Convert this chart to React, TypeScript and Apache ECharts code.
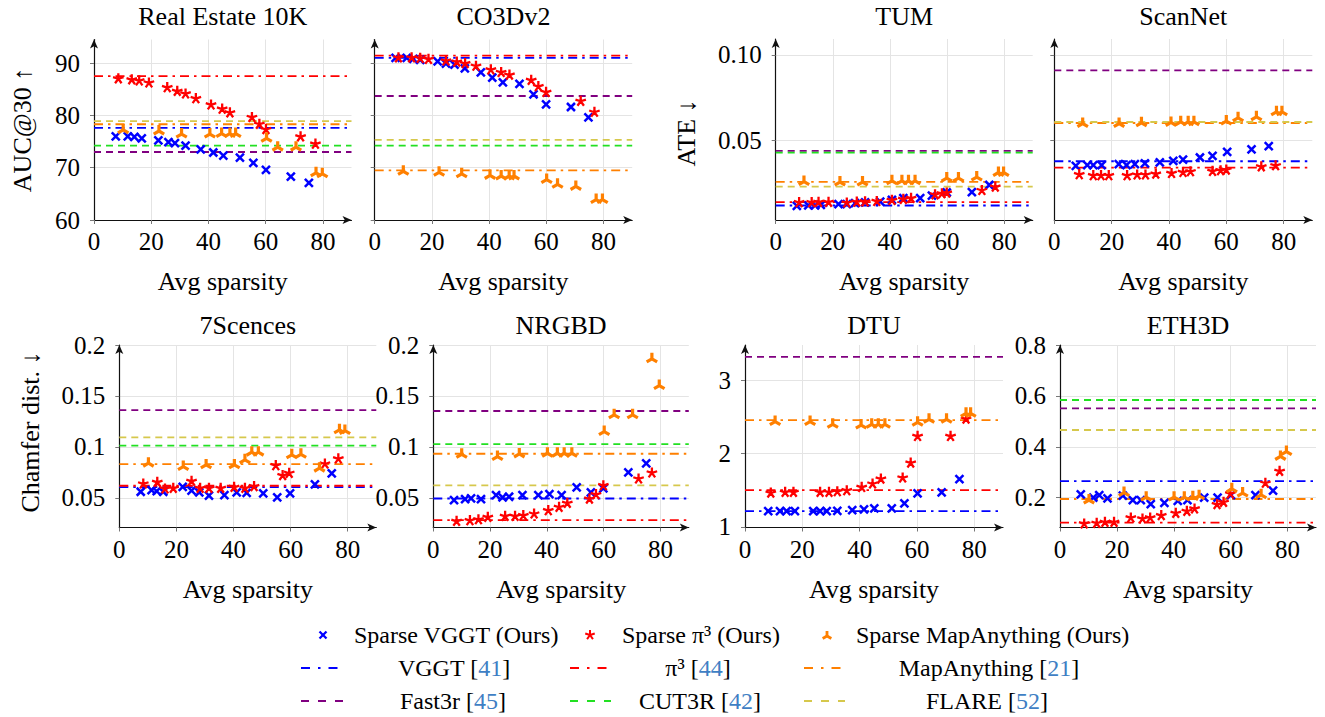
import React, { useEffect, useRef } from 'react';
import * as echarts from 'echarts';

const FONT = '"Liberation Serif", "Times New Roman", serif';

const xTicks = [0, 20, 40, 60, 80];
const panelTitles = ['Real Estate 10K', 'CO3Dv2', 'TUM', 'ScanNet', '7Scences', 'NRGBD', 'DTU', 'ETH3D'];
const baselineNames = ['VGGT', 'π³', 'MapAnything', 'Fast3r', 'CUT3R', 'FLARE'];

// ---------- Real Estate 10K ----------
const re10kVGGT = [[7.6, 76.0], [11.8, 76.0], [14.1, 75.9], [16.7, 75.6], [22.5, 75.2], [26.0, 74.9], [28.3, 74.7], [32.0, 74.2], [37.3, 73.5], [41.7, 72.9], [45.2, 72.3], [51.0, 71.9], [55.7, 70.9], [60.1, 69.6], [68.8, 68.3], [75.1, 67.1]];
const re10kPi3 = [[8.5, 87.1], [13.2, 86.9], [15.8, 86.7], [19.2, 86.3], [25.6, 85.4], [29.1, 84.7], [32.0, 84.2], [35.6, 83.3], [40.9, 82.1], [44.8, 81.3], [47.5, 80.6], [55.2, 79.7], [57.8, 78.4], [60.1, 77.4], [72.2, 76.0], [77.4, 74.6]];
const re10kMapA = [[10.2, 77.5], [22.7, 77.3], [30.6, 76.7], [40.5, 76.7], [44.6, 76.8], [47.5, 76.8], [49.5, 76.8], [60.3, 75.9], [64.2, 74.2], [70.6, 74.2], [77.6, 69.3], [79.8, 69.1]];
const re10kBaselines = [77.6, 87.5, 78.3, 73.0, 74.2, 78.9];
const re10kYTicks = [60, 70, 80, 90];

// ---------- CO3Dv2 ----------
const co3dVGGT = [[7.3, 91.0], [11.2, 91.0], [13.5, 90.8], [15.9, 90.6], [22.0, 90.3], [24.9, 89.9], [27.9, 89.7], [31.5, 89.0], [37.1, 88.2], [41.1, 87.2], [44.8, 86.3], [50.6, 86.0], [55.5, 84.0], [59.9, 82.1], [68.6, 81.6], [74.7, 79.6]];
const co3dPi3 = [[8.3, 91.1], [12.9, 91.1], [15.9, 91.0], [18.8, 90.8], [24.9, 90.5], [28.7, 90.3], [31.6, 90.0], [35.4, 89.5], [40.6, 88.8], [44.2, 88.3], [47.1, 87.8], [54.7, 86.8], [57.2, 85.6], [59.9, 84.5], [72.0, 82.8], [76.8, 80.7]];
const co3dMapA = [[10.0, 69.6], [22.5, 69.4], [30.4, 69.1], [40.3, 68.8], [44.2, 68.7], [47.0, 68.7], [48.7, 68.7], [60.1, 68.0], [63.9, 67.1], [70.3, 66.7], [77.4, 64.2], [79.6, 64.2]];
const co3dBaselines = [91.0, 91.4, 69.5, 83.7, 74.2, 75.3];
const co3dYTicks = [60, 70, 80, 90];

// ---------- TUM ----------
const tumVGGT = [[7.4, 0.0116], [11.4, 0.0118], [13.8, 0.0118], [15.8, 0.0122], [22.0, 0.0126], [24.9, 0.0126], [27.8, 0.0132], [31.3, 0.0136], [36.6, 0.0141], [40.7, 0.0151], [44.7, 0.0161], [50.6, 0.0161], [54.7, 0.0176], [59.9, 0.0194], [68.7, 0.0196], [74.8, 0.0238]];
const tumPi3 = [[8.2, 0.0138], [12.6, 0.0138], [15.0, 0.014], [18.5, 0.014], [24.9, 0.0136], [28.4, 0.0141], [31.3, 0.0143], [35.4, 0.0145], [40.7, 0.0151], [44.7, 0.0157], [47.4, 0.0163], [55.8, 0.0184], [58.2, 0.019], [59.9, 0.0194], [72.2, 0.0209], [76.9, 0.0229]];
const tumMapA = [[9.9, 0.0267], [22.5, 0.0264], [30.4, 0.0264], [40.7, 0.0271], [44.2, 0.0271], [46.5, 0.0271], [48.8, 0.0271], [59.9, 0.0287], [64.0, 0.0287], [70.4, 0.0293], [78.0, 0.032], [79.8, 0.032]];
const tumBaselines = [0.0118, 0.0138, 0.0256, 0.0438, 0.0428, 0.0229];
const tumYTicks = [0.05, 0.1];

// ---------- ScanNet ----------
const scannetVGGT = [[7.5, 0.035], [11.5, 0.0354], [13.6, 0.0354], [16.5, 0.0354], [22.5, 0.036], [25.2, 0.0354], [28.1, 0.036], [31.6, 0.0364], [36.8, 0.037], [41.5, 0.0379], [44.9, 0.0387], [50.8, 0.0399], [55.2, 0.0409], [60.3, 0.0432], [68.8, 0.0446], [74.8, 0.0465]];
const scannetPi3 = [[8.7, 0.0302], [13.6, 0.0296], [16.3, 0.0296], [19.0, 0.0296], [25.4, 0.0296], [28.9, 0.03], [31.8, 0.03], [35.4, 0.0305], [40.9, 0.0309], [44.9, 0.0315], [47.5, 0.0319], [55.2, 0.0321], [58.0, 0.0325], [60.0, 0.0329], [72.2, 0.0348], [77.2, 0.0354]];
const scannetMapA = [[9.9, 0.0607], [22.6, 0.0607], [30.4, 0.0611], [40.7, 0.0613], [44.1, 0.0617], [46.7, 0.0617], [48.7, 0.0617], [60.0, 0.0621], [64.1, 0.064], [70.5, 0.0646], [77.5, 0.0675], [79.4, 0.0675]];
const scannetBaselines = [0.0377, 0.034, 0.0601, 0.0909, null, 0.0607];
const scannetYTicks = [0.05, 0.1];

// ---------- 7Scences ----------
const sevenVGGT = [[7.5, 0.0559], [11.3, 0.0575], [13.1, 0.0566], [15.4, 0.0559], [22.2, 0.0608], [25.3, 0.0569], [28.0, 0.0552], [31.4, 0.052], [36.8, 0.0526], [41.1, 0.0552], [44.6, 0.0549], [50.4, 0.0543], [55.3, 0.0503], [59.8, 0.0543], [68.5, 0.0631], [74.4, 0.0739]];
const sevenPi3 = [[8.4, 0.0641], [13.3, 0.0657], [16.0, 0.0592], [18.9, 0.0598], [25.3, 0.0667], [28.3, 0.0598], [31.4, 0.0598], [35.5, 0.0598], [40.2, 0.0608], [44.0, 0.0598], [47.2, 0.0615], [54.8, 0.0821], [57.2, 0.0723], [59.5, 0.0746], [72.0, 0.0837], [76.7, 0.0887]];
const sevenMapA = [[10.2, 0.0854], [22.4, 0.0821], [30.4, 0.0837], [40.3, 0.0837], [44.0, 0.0887], [46.4, 0.0962], [48.7, 0.0962], [60.4, 0.0936], [63.6, 0.0942], [70.1, 0.0805], [77.1, 0.1181], [79.0, 0.1175]];
const sevenBaselines = [0.0605, 0.0618, 0.0831, 0.1361, 0.1011, 0.1093];
const sevenYTicks = [0.05, 0.1, 0.15, 0.2];

// ---------- NRGBD ----------
const nrgbdVGGT = [[7.3, 0.0477], [11.2, 0.0487], [13.3, 0.0493], [16.8, 0.0487], [22.1, 0.0526], [24.4, 0.0503], [26.7, 0.051], [31.4, 0.0526], [37.0, 0.0526], [40.9, 0.0536], [45.2, 0.0526], [50.5, 0.0602], [55.5, 0.0552], [59.9, 0.0592], [68.7, 0.0749], [75.0, 0.0837]];
const nrgbdPi3 = [[8.2, 0.0274], [12.9, 0.0281], [15.9, 0.029], [19.2, 0.0313], [25.3, 0.0323], [28.8, 0.0323], [31.7, 0.033], [35.5, 0.0346], [40.5, 0.0379], [44.3, 0.0412], [47.2, 0.0451], [55.0, 0.0493], [57.3, 0.0536], [59.9, 0.0624], [72.3, 0.069], [77.0, 0.0749]];
const nrgbdMapA = [[10.0, 0.0942], [22.6, 0.0919], [30.3, 0.0945], [40.2, 0.0952], [43.7, 0.0952], [46.1, 0.0952], [48.8, 0.0952], [60.2, 0.1165], [63.7, 0.1329], [70.2, 0.1329], [77.0, 0.1879], [79.6, 0.1617]];
const nrgbdBaselines = [0.0493, 0.0281, 0.0932, 0.1352, 0.1027, 0.0621];
const nrgbdYTicks = [0.05, 0.1, 0.15, 0.2];

// ---------- DTU ----------
const dtuVGGT = [[8.1, 1.214], [12.2, 1.214], [14.5, 1.214], [17.4, 1.214], [23.8, 1.214], [26.2, 1.214], [28.5, 1.214], [32.2, 1.218], [37.4, 1.227], [41.5, 1.236], [45.1, 1.25], [51.2, 1.25], [55.6, 1.318], [60.2, 1.455], [68.6, 1.468], [74.8, 1.65]];
const dtuPi3 = [[9.0, 1.468], [14.0, 1.477], [16.9, 1.477], [26.2, 1.477], [29.3, 1.477], [32.2, 1.486], [35.5, 1.5], [40.7, 1.545], [44.5, 1.591], [47.4, 1.659], [55.0, 1.673], [57.8, 1.877], [60.2, 2.241], [71.7, 2.241], [77.1, 2.477]];
const dtuMapA = [[10.5, 2.455], [22.7, 2.455], [30.6, 2.418], [40.5, 2.409], [44.2, 2.418], [46.5, 2.418], [48.8, 2.418], [60.2, 2.445], [64.2, 2.486], [70.3, 2.486], [77.1, 2.568], [78.7, 2.568]];
const dtuBaselines = [1.214, 1.5, 2.455, 3.318, null, null];
const dtuYTicks = [1, 2, 3];

// ---------- ETH3D ----------
const ethVGGT = [[7.3, 0.213], [11.7, 0.2], [13.8, 0.21], [16.7, 0.197], [22.1, 0.208], [25.6, 0.191], [28.4, 0.191], [31.9, 0.175], [36.7, 0.18], [41.4, 0.188], [44.8, 0.191], [50.7, 0.2], [55.4, 0.2], [60.1, 0.21], [68.7, 0.21], [74.9, 0.2275]];
const ethPi3 = [[8.5, 0.0992], [12.9, 0.1018], [15.8, 0.1057], [19.0, 0.1057], [24.9, 0.1227], [29.0, 0.1188], [31.7, 0.1227], [35.6, 0.1319], [40.7, 0.1411], [44.6, 0.1489], [47.3, 0.1581], [55.2, 0.1751], [57.5, 0.1843], [59.9, 0.217], [72.2, 0.259], [77.2, 0.306]];
const ethMapA = [[10.2, 0.197], [22.5, 0.226], [30.3, 0.208], [40.1, 0.208], [43.7, 0.208], [46.7, 0.21], [48.9, 0.213], [60.4, 0.241], [64.2, 0.224], [70.7, 0.217], [77.5, 0.368], [79.6, 0.387]];
const ethBaselines = [0.2655, 0.102, 0.195, 0.551, 0.584, 0.466];
const ethYTicks = [0.2, 0.4, 0.6, 0.8];

const COLORS = {
  blue: '#0000ff',
  red: '#ff0000',
  orange: '#ff8000',
  purple: '#800080',
  green: '#22e022',
  yellow: '#d6c84c',
};
const baselineColors = [COLORS.blue, COLORS.red, COLORS.orange, COLORS.purple, COLORS.green, COLORS.yellow];
const DASHDOT = [9, 5, 2.5, 5];
const DASHED = [7, 5];
const baselineDash = [DASHDOT, DASHDOT, DASHDOT, DASHED, DASHED, DASHED];

const CROSS = 'path://M0,0L10,10M10,0L0,10';
const STAR = 'path://M10,10L10,0M10,10L19.51,6.91M10,10L15.88,18.09M10,10L4.12,18.09M10,10L0.49,6.91';
const TRI = 'path://M10,10L10,0M10,10L1.34,15M10,10L18.66,15';

const fmt2 = (v: number) => v.toFixed(2);
const fmtG = (v: number) => String(Math.round(v * 1000) / 1000);
const fmt1 = (v: number) => v.toFixed(1);

const panels = [
  { vggt: re10kVGGT, pi3: re10kPi3, mapa: re10kMapA, base: re10kBaselines, ticks: re10kYTicks, min: 60, max: 94.5, labels: true, fmt: fmtG, layout: [94, 39.5, 257.5, 180.5] },
  { vggt: co3dVGGT, pi3: co3dPi3, mapa: co3dMapA, base: co3dBaselines, ticks: co3dYTicks, min: 60, max: 94.5, labels: false, fmt: fmtG, layout: [374.7, 39.5, 257.5, 180.5] },
  { vggt: tumVGGT, pi3: tumPi3, mapa: tumMapA, base: tumBaselines, ticks: tumYTicks, min: 0.0033, max: 0.1093, labels: true, fmt: fmt2, layout: [775.7, 39, 257, 181] },
  { vggt: scannetVGGT, pi3: scannetPi3, mapa: scannetMapA, base: scannetBaselines, ticks: scannetYTicks, min: 0.0033, max: 0.1093, labels: false, fmt: fmt2, layout: [1054.3, 39, 258, 181] },
  { vggt: sevenVGGT, pi3: sevenPi3, mapa: sevenMapA, base: sevenBaselines, ticks: sevenYTicks, min: 0.0208, max: 0.2, labels: true, fmt: fmtG, layout: [119.3, 345, 257, 182.5] },
  { vggt: nrgbdVGGT, pi3: nrgbdPi3, mapa: nrgbdMapA, base: nrgbdBaselines, ticks: nrgbdYTicks, min: 0.0208, max: 0.2, labels: true, fmt: fmtG, layout: [433.3, 345, 255.5, 182.5] },
  { vggt: dtuVGGT, pi3: dtuPi3, mapa: dtuMapA, base: dtuBaselines, ticks: dtuYTicks, min: 0.99, max: 3.48, labels: true, fmt: fmtG, layout: [745, 345, 258, 182.5] },
  { vggt: ethVGGT, pi3: ethPi3, mapa: ethMapA, base: ethBaselines, ticks: ethYTicks, min: 0.083, max: 0.8, labels: true, fmt: fmt1, layout: [1060, 345, 256, 182.5] },
];

function buildOption() {
  const grid: any[] = [];
  const xAxis: any[] = [];
  const yAxis: any[] = [];
  const series: any[] = [];
  const graphic: any[] = [];

  panels.forEach((p, i) => {
    const [left, top, width, height] = p.layout;
    grid.push({ left, top, width, height, containLabel: false, outerBoundsMode: 'none' });
    xAxis.push({
      type: 'value', gridIndex: i, min: 0, max: 90,
      axisLine: { show: true, onZero: false, symbol: ['none', 'arrow'], symbolSize: [6, 9], lineStyle: { color: '#111', width: 1.2 } },
      axisTick: { show: true, customValues: xTicks, length: 4, lineStyle: { color: '#777' } },
      axisLabel: { show: true, customValues: xTicks, margin: 9, fontSize: 25, fontFamily: FONT, color: '#000' },
      splitLine: { show: true, lineStyle: { color: '#e4e4e4', width: 1 } },
    });
    yAxis.push({
      type: 'value', gridIndex: i, min: p.min, max: p.max,
      axisLine: { show: true, onZero: false, symbol: ['none', 'arrow'], symbolSize: [6, 9], lineStyle: { color: '#111', width: 1.2 } },
      axisTick: { show: true, customValues: p.ticks, length: 4, lineStyle: { color: '#777' } },
      axisLabel: { show: p.labels, customValues: p.ticks, margin: 14, fontSize: 25, fontFamily: FONT, color: '#000', formatter: (v: number) => p.fmt(v) },
      splitLine: { show: true, lineStyle: { color: '#e4e4e4', width: 1 } },
    });
    p.base.forEach((v, k) => {
      if (v === null) return;
      series.push({
        type: 'line', xAxisIndex: i, yAxisIndex: i, name: baselineNames[k],
        data: [[0, v], [90, v]], symbol: 'none', showSymbol: false, silent: true, z: 2,
        lineStyle: { color: baselineColors[k], width: 1.8, type: baselineDash[k] },
      });
    });
    const sc = (data: number[][], sym: string, color: string, size: number, bw: number) => ({
      type: 'scatter', xAxisIndex: i, yAxisIndex: i, data, symbol: sym, symbolSize: size, symbolKeepAspect: true, z: 3,
      itemStyle: { color, borderColor: color, borderWidth: bw, opacity: 1 },
    });
    series.push(sc(p.vggt, CROSS, COLORS.blue, 8, 2.5));
    series.push(sc(p.pi3, STAR, COLORS.red, 10.5, 2.3));
    series.push(sc(p.mapa, TRI, COLORS.orange, 10.5, 3.2));

    const cx = left + width / 2;
    const titleY = i < 4 ? 16 : 325;
    const nameY = i < 4 ? 281 : 589;
    graphic.push({ type: 'text', x: cx, y: titleY, style: { text: panelTitles[i], fontSize: 26, fontFamily: FONT, fill: '#000', align: 'center', verticalAlign: 'middle' } });
    graphic.push({ type: 'text', x: cx, y: nameY, style: { text: 'Avg sparsity', fontSize: 26, fontFamily: FONT, fill: '#000', align: 'center', verticalAlign: 'middle' } });
  });

  const yName = (text: string, x: number, y: number) => ({
    type: 'text', x, y, rotation: Math.PI / 2,
    style: { text, fontSize: 26, fontFamily: FONT, fill: '#000', align: 'center', verticalAlign: 'middle' },
  });
  graphic.push(yName('AUC@30 ↑', 22, 130));
  graphic.push(yName('ATE ↓', 686, 133));
  graphic.push(yName('Chamfer dist. ↓', 30, 432));

  // ---------- legend ----------
  const r1 = 635, r2 = 668, r3 = 701;
  const lineEl = (x1: number, y1: number, x2: number, y2: number, stroke: string, w: number, dash?: number[]) => ({
    type: 'line', shape: { x1, y1, x2, y2 }, style: { stroke, lineWidth: w, lineDash: dash || null },
  });
  // cross
  const cxm = 323, s = 3.5;
  graphic.push(lineEl(cxm - s, r1 - s, cxm + s, r1 + s, COLORS.blue, 2.3));
  graphic.push(lineEl(cxm - s, r1 + s, cxm + s, r1 - s, COLORS.blue, 2.3));
  // star
  const sx = 590, sr = 5;
  for (let k = 0; k < 5; k++) {
    const a = -Math.PI / 2 + (k * 2 * Math.PI) / 5;
    graphic.push(lineEl(sx, r1, sx + sr * Math.cos(a), r1 + sr * Math.sin(a), COLORS.red, 2));
  }
  // tri
  const tx = 827, tr = 5;
  [-Math.PI / 2, Math.PI / 6, (5 * Math.PI) / 6].forEach((a) => {
    graphic.push(lineEl(tx, r1 + 1, tx + tr * Math.cos(a), r1 + 1 + tr * Math.sin(a), COLORS.orange, 2.8));
  });
  const legText = (text: string, x: number, y: number, align: string) => ({
    type: 'text', x, y,
    style: {
      text, fontSize: 24, fontFamily: FONT, fill: '#000', align, verticalAlign: 'middle',
      rich: { c: { fill: '#3f7fc4', fontSize: 24, fontFamily: FONT } },
    },
  });
  graphic.push(legText('Sparse VGGT (Ours)', 354, r1, 'left'));
  graphic.push(legText('Sparse π³ (Ours)', 622, r1, 'left'));
  graphic.push(legText('Sparse MapAnything (Ours)', 856, r1, 'left'));

  const sampleX = [[301, 343], [570, 611], [804, 845]];
  const row2 = [['VGGT [{c|41}]', 454], ['π³ [{c|44}]', 698], ['MapAnything [{c|21}]', 989]];
  const row3 = [['Fast3r [{c|45}]', 453], ['CUT3R [{c|42}]', 700], ['FLARE [{c|52}]', 987]];
  [0, 1, 2].forEach((k) => {
    graphic.push(lineEl(sampleX[k][0], r2, sampleX[k][1], r2, baselineColors[k], 2, [9, 8, 2.5, 8]));
    graphic.push(legText(row2[k][0] as string, row2[k][1] as number, r2, 'center'));
    graphic.push(lineEl(sampleX[k][0], r3, sampleX[k][1], r3, baselineColors[k + 3], 2, [8, 9]));
    graphic.push(legText(row3[k][0] as string, row3[k][1] as number, r3, 'center'));
  });

  return {
    animation: false,
    backgroundColor: '#ffffff',
    textStyle: { fontFamily: FONT },
    grid, xAxis, yAxis, series, graphic,
  };
}

export default function App() {
  const ref = useRef<HTMLDivElement>(null);
  useEffect(() => {
    if (!ref.current) return;
    const chart = echarts.init(ref.current, null, { renderer: 'svg' });
    chart.setOption(buildOption() as any);
    return () => chart.dispose();
  }, []);
  return (
    <div
      ref={ref}
      style={{ position: 'fixed', left: 0, top: 0, width: 1325, height: 717, background: '#fff' }}
    />
  );
}
